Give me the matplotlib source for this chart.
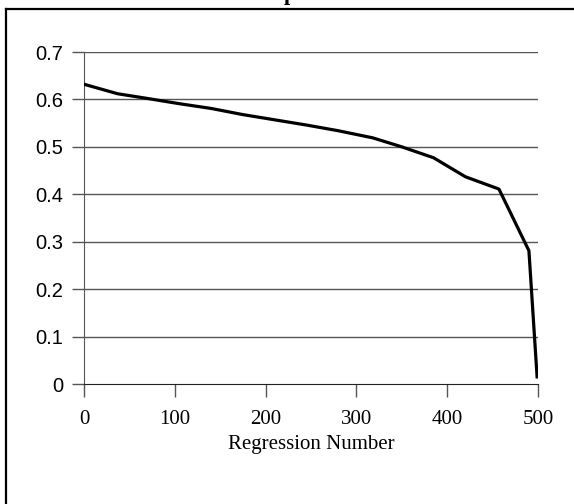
import matplotlib
matplotlib.use("Agg")
import matplotlib.pyplot as plt
from matplotlib.lines import Line2D

# regression number vs value
reg_num = [0, 37, 70, 105, 140, 175, 210, 245, 280, 318, 350, 385, 420, 457, 490, 499]
values = [0.632, 0.612, 0.602, 0.591, 0.581, 0.568, 0.557, 0.546, 0.534, 0.519,
          0.500, 0.477, 0.437, 0.411, 0.281, 0.015]

x_ticks = [0, 100, 200, 300, 400, 500]
y_ticks = [0, 0.1, 0.2, 0.3, 0.4, 0.5, 0.6, 0.7]
y_labels = ["0", "0.1", "0.2", "0.3", "0.4", "0.5", "0.6", "0.7"]

fig = plt.figure(figsize=(5.74, 5.04), dpi=100)
ax = fig.add_axes([84 / 574, 1 - 384 / 504, 454 / 574, 332 / 504])

# outer frame: only its left and top edges fall inside the picture
fx, fy = 5.5 / 574, 1 - 8.5 / 504
fig.lines.append(Line2D([fx, fx], [0, fy], transform=fig.transFigure, color="black", linewidth=1.6))
fig.lines.append(Line2D([fx, 1.0], [fy, fy], transform=fig.transFigure, color="black", linewidth=1.6))
# title sits above the picture, only a descender shows
fig.text(290 / 574, 1.0, "p", fontsize=16, fontweight="bold", family="Liberation Serif",
         ha="center", va="baseline")

for y in y_ticks[1:]:
    ax.axhline(y, color="#555555", linewidth=1.0, zorder=1)

ax.plot(reg_num, values, color="black", linewidth=2.3, zorder=3)

ax.set_xlim(0, 500)
ax.set_ylim(0, 0.7)
ax.set_xticks(x_ticks)
ax.set_xticklabels([str(t) for t in x_ticks], family="Liberation Serif", fontsize=15)
ax.set_yticks(y_ticks)
ax.set_yticklabels(y_labels, family="Liberation Sans", fontsize=14.5)
ax.tick_params(axis="x", length=9, width=1, color="#555555", pad=10, direction="out")
ax.tick_params(axis="y", length=9, width=1, color="#555555", pad=6, direction="out")

for s in ["top", "right"]:
    ax.spines[s].set_visible(False)
ax.spines["left"].set_color("#555555")
ax.spines["bottom"].set_color("#222222")

ax.set_xlabel("Regression Number", family="Liberation Serif", fontsize=15, labelpad=4)

fig.savefig("out.png", dpi=100)
